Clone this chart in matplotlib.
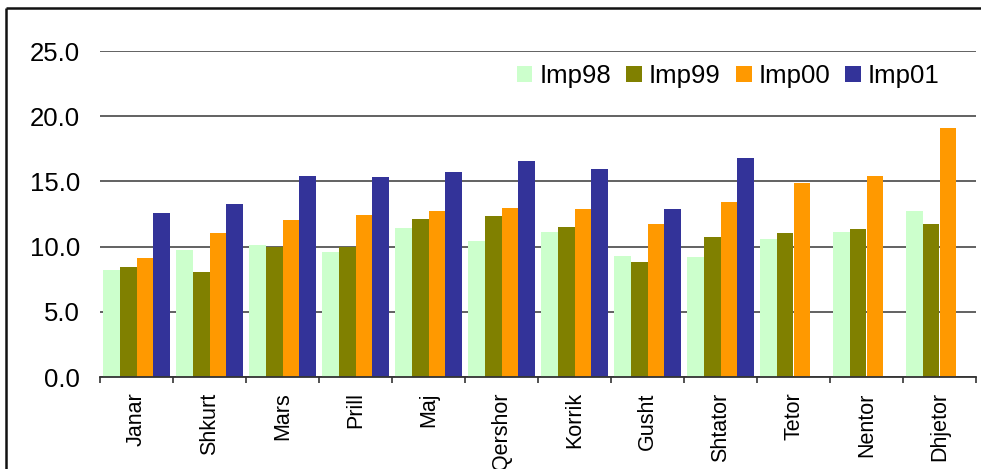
import numpy as np
import matplotlib.pyplot as plt
from matplotlib.lines import Line2D

plt.rcParams['font.family'] = ['Liberation Sans', 'DejaVu Sans']

months = ['Janar', 'Shkurt', 'Mars', 'Prill', 'Maj', 'Qershor',
          'Korrik', 'Gusht', 'Shtator', 'Tetor', 'Nentor', 'Dhjetor']
imp98 = [8.2, 9.74, 10.12, 9.61, 11.43, 10.43, 11.12, 9.28, 9.20, 10.58, 11.12, 12.73]
imp99 = [8.44, 8.05, 10.0, 10.0, 12.12, 12.35, 11.50, 8.82, 10.74, 11.04, 11.35, 11.73]
imp00 = [9.13, 11.04, 12.04, 12.42, 12.73, 12.96, 12.88, 11.73, 13.42, 14.88, 15.41, 19.10]
imp01 = [12.58, 13.27, 15.41, 15.34, 15.72, 16.56, 15.95, 12.88, 16.79, np.nan, np.nan, np.nan]

series = [('Imp98', imp98, '#CCFFCC'),
          ('Imp99', imp99, '#808000'),
          ('Imp00', imp00, '#FF9900'),
          ('Imp01', imp01, '#333399')]

fig = plt.figure(figsize=(9.81, 4.69), dpi=100)
ax = fig.add_axes([100 / 981, 1 - 377 / 469, 876 / 981, 326 / 469])

x = np.arange(len(months))
w = 0.2325
for i, (name, vals, col) in enumerate(series):
    ax.bar(x + (i - 1.5) * w, vals, w, color=col, label=name, zorder=2)

ax.set_xlim(-0.5, len(months) - 0.5)
ax.set_ylim(0, 25)
ax.set_yticks(np.arange(0, 26, 5))
ax.set_yticklabels([f'{v:.1f}' for v in np.arange(0, 26, 5)], fontsize=18.5)
ax.yaxis.grid(True, color='#555555', linewidth=1.3, zorder=0)
ax.tick_params(axis='y', length=0, pad=14.4)

ax.set_xticks(x)
ax.set_xticklabels(months, rotation=90, fontsize=15.5, va='top')
ax.tick_params(axis='x', which='major', length=0, pad=11)
ax.set_xticks(np.arange(-0.5, len(months)), minor=True)
ax.tick_params(axis='x', which='minor', length=4.5, width=1.2, color='#333333')

for s in ['top', 'right', 'left']:
    ax.spines[s].set_visible(False)
ax.spines['bottom'].set_color('#333333')
ax.spines['bottom'].set_linewidth(1.3)

ax.legend(loc='center right', bbox_to_anchor=(0.985, 0.923), ncol=4, frameon=False,
          fontsize=18.5, handlelength=0.62, handleheight=0.62, handletextpad=0.27,
          columnspacing=0.58)

# outer chart frame (runs off the right and bottom edges)
fy = 1 - 8.5 / 469
fx = 6 / 981
fig.add_artist(Line2D([fx, fx], [0, fy], transform=fig.transFigure,
                      color='#111111', linewidth=1.8, solid_capstyle='butt'))
fig.add_artist(Line2D([fx, 1.0], [fy, fy], transform=fig.transFigure,
                      color='#111111', linewidth=1.8, solid_capstyle='butt'))

fig.savefig('out.png', dpi=100)
